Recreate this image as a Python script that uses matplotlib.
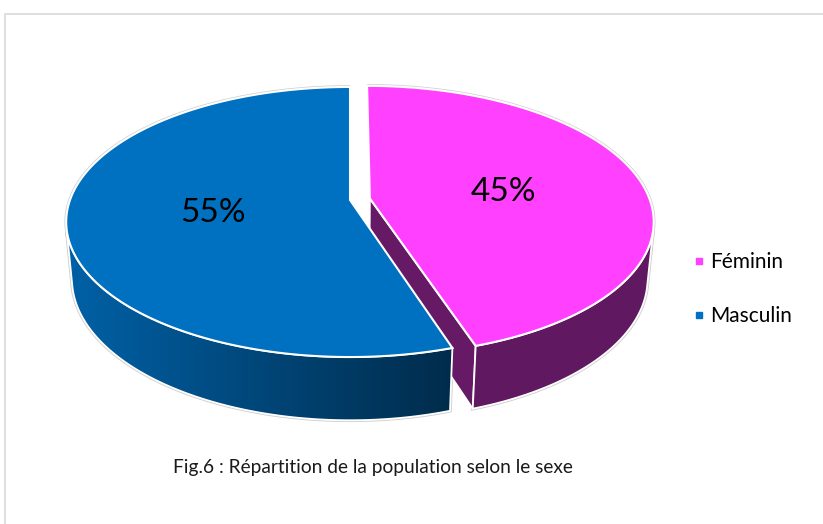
import numpy as np
import matplotlib.pyplot as plt
import matplotlib.colors as mcolors
from matplotlib.patches import Polygon
from matplotlib.lines import Line2D

# data
categories = ['Féminin', 'Masculin']
values = [45, 55]
colors = ['#FF40FF', '#0070C0']
explode = [0.072, 0.0]
title = 'Fig.6 : Répartition de la population selon le sexe'

plt.rcParams['font.family'] = ['Lato', 'DejaVu Sans']

# 3D view (pixels)
PHI = np.radians(28)
DIST = 5.42
SCALE = 280
CX, CY = 350, 200
HEIGHT = 0.232
CAM = np.array([0.0, -DIST * np.cos(PHI), DIST * np.sin(PHI)])


def project(X, Y, Z):
    u = Y * np.sin(PHI) + Z * np.cos(PHI)
    w = Y * np.cos(PHI) - Z * np.sin(PHI)
    f = DIST / (DIST + w)
    return CX + SCALE * X * f, CY - SCALE * u * f


def shade(x):
    # side walls get darker to the right
    return np.clip(0.86 - (x - 70) / 393 * 0.48, 0.38, 0.86)


fig = plt.figure(figsize=(8.23, 5.24), dpi=100)
ax = fig.add_axes([0, 0, 1, 1])
ax.set_xlim(0, 823)
ax.set_ylim(524, 0)
ax.axis('off')

# chart frame
ax.plot([5.5, 5.5, 823], [524, 13.5, 13.5], color='#D9D9D9', lw=1.2, zorder=0)

total = sum(values)
spans = [v / total * 2 * np.pi for v in values]
starts = np.pi / 2 - np.concatenate([[0], np.cumsum(spans)[:-1]])

order = np.argsort(explode)[::-1]
for i in order:
    a0 = starts[i]
    a1 = a0 - spans[i]
    mid = (a0 + a1) / 2
    ox, oy = explode[i] * np.cos(mid), explode[i] * np.sin(mid)
    rgb = np.array(mcolors.to_rgb(colors[i]))
    t = np.linspace(a0, a1, 300)

    # radial faces
    for a, n in [(a0, (-np.sin(a0), np.cos(a0))), (a1, (np.sin(a1), -np.cos(a1)))]:
        if n[0] * (CAM[0] - ox) + n[1] * (CAM[1] - oy) <= 0:
            continue
        X = np.array([ox, ox + np.cos(a), ox + np.cos(a), ox])
        Y = np.array([oy, oy + np.sin(a), oy + np.sin(a), oy])
        Z = np.array([0, 0, -HEIGHT, -HEIGHT])
        px, py = project(X, Y, Z)
        ax.add_patch(Polygon(np.column_stack([px, py]), closed=True,
                             facecolor=rgb * 0.4, edgecolor='white', lw=1.3, zorder=2))

    # outer wall (front part only)
    vis = (-ox * np.cos(t) - oy * np.sin(t) - 1 + CAM[1] * np.sin(t)) > 0
    if vis.any():
        tv = t[vis]
        xt, yt = project(ox + np.cos(tv), oy + np.sin(tv), 0 * tv)
        xb, yb = project(ox + np.cos(tv), oy + np.sin(tv), 0 * tv - HEIGHT)
        pts = np.column_stack([np.concatenate([xt, xb[::-1]]),
                               np.concatenate([yt, yb[::-1]])])
        ax.add_patch(Polygon(pts, closed=True, facecolor='none', edgecolor='#D0D0D0',
                             lw=2.6, zorder=1.5))
        wall = Polygon(pts, closed=True, facecolor='none', edgecolor='white',
                       lw=1.3, zorder=3)
        x0, x1 = pts[:, 0].min(), pts[:, 0].max()
        cols = np.linspace(x0, x1, 256)
        img = rgb[None, None, :] * shade(cols)[None, :, None]
        im = ax.imshow(np.repeat(img, 2, axis=0), extent=(x0, x1, pts[:, 1].max(), pts[:, 1].min()),
                       aspect='auto', interpolation='bilinear', zorder=2)
        ax.add_patch(wall)
        im.set_clip_path(wall)

    # top face
    xt, yt = project(ox + np.cos(t), oy + np.sin(t), 0 * t)
    ax0, ay0 = project(ox, oy, 0)
    top = np.column_stack([np.concatenate([[ax0], xt]), np.concatenate([[ay0], yt])])
    ax.plot(xt, yt, color='#D0D0D0', lw=2.6, zorder=1.5, solid_capstyle='butt')
    ax.add_patch(Polygon(top, closed=True, facecolor=colors[i], edgecolor='white',
                         lw=1.5, zorder=4))

    # percentage label
    lx, ly = project(ox + 0.49 * np.cos(mid), oy + 0.49 * np.sin(mid), 0)
    ax.text(lx, ly + 3, f'{values[i] / total * 100:.0f}%', fontsize=24,
            ha='center', va='center', color='black', zorder=5)

handles = [Line2D([], [], marker='s', ls='', markersize=5, color=c) for c in colors]
ax.legend(handles, categories, loc='center left', bbox_to_anchor=(678 / 823, 1 - 289 / 524),
          frameon=False, fontsize=15, handletextpad=0.05, labelspacing=1.65,
          handlelength=1.0, borderpad=0)

ax.text(372.5, 467, title, fontsize=13.8, ha='center', va='center', color='#1a1a1a')

fig.savefig('out.png', dpi=100)
